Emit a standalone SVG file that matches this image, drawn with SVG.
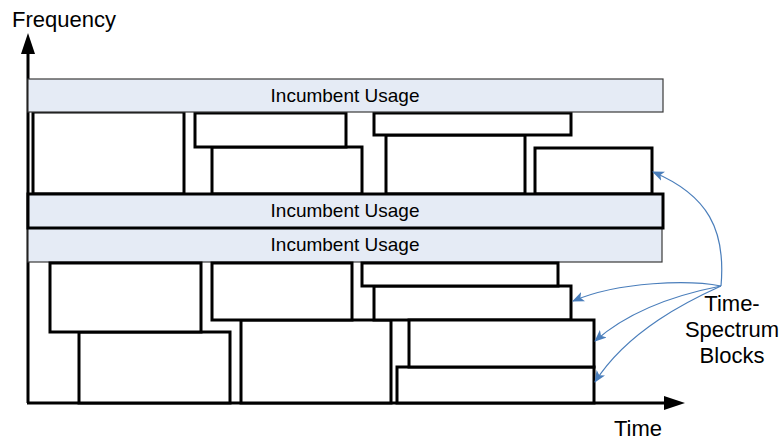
<svg xmlns="http://www.w3.org/2000/svg" width="782" height="442" viewBox="0 0 782 442">
  <style>
    .band { fill: #e5ebf5; stroke: #3a3a3a; stroke-width: 1.2; }
    .band-bold { fill: #e5ebf5; stroke: #000; stroke-width: 3; }
    .block { fill: #fff; stroke: #000; stroke-width: 3; stroke-linejoin: miter; }
    .axis { stroke: #000; stroke-width: 3; fill: none; }
    .lbl { font-family: "Liberation Sans", Arial, sans-serif; fill: #000; }
    .band-lbl { font-size: 19px; text-anchor: middle; }
    .axis-lbl { font-size: 22px; }
    .link { fill: none; stroke: #4a7ebb; stroke-width: 1.2; }
  </style>
  <defs>
    <marker id="tip" viewBox="0 0 12 10" refX="11" refY="5" markerWidth="12" markerHeight="10" markerUnits="userSpaceOnUse" orient="auto">
      <path d="M0,0 L12,5 L0,10 L3,5 Z" fill="#4a7ebb"/>
    </marker>
  </defs>

  <rect width="782" height="442" fill="#fff"/>

  <!-- axes -->
  <g id="axes">
    <line class="axis" x1="28" y1="50" x2="28" y2="403"/>
    <polygon points="28,33 35,54 21,54" fill="#000"/>
    <line class="axis" x1="27" y1="403" x2="666" y2="403"/>
    <polygon points="685,403 664,396 664,410" fill="#000"/>
    <text class="lbl axis-lbl" x="12" y="27">Frequency</text>
    <text class="lbl axis-lbl" x="614" y="436">Time</text>
  </g>

  <!-- upper time-spectrum blocks -->
  <g id="block-a"><rect class="block" x="33" y="112" width="151" height="82"/></g>
  <g id="block-c"><rect class="block" x="212" y="147" width="150" height="47"/></g>
  <g id="block-b"><rect class="block" x="195" y="113" width="151" height="34"/></g>
  <g id="block-e"><rect class="block" x="386" y="135" width="139" height="59"/></g>
  <g id="block-d"><rect class="block" x="374" y="113" width="197" height="22"/></g>
  <g id="block-f"><rect class="block" x="535" y="148" width="117" height="46"/></g>

  <!-- incumbent bands -->
  <g id="band-1">
    <rect class="band" x="28" y="79" width="635" height="33"/>
    <text class="lbl band-lbl" x="345" y="102">Incumbent Usage</text>
  </g>
  <g id="band-3">
    <rect class="band" x="28" y="228" width="634" height="34"/>
    <text class="lbl band-lbl" x="345" y="251">Incumbent Usage</text>
  </g>
  <g id="band-2">
    <rect class="band-bold" x="28" y="194" width="635" height="34"/>
    <text class="lbl band-lbl" x="345" y="217">Incumbent Usage</text>
  </g>

  <!-- lower time-spectrum blocks -->
  <g id="block-h"><rect class="block" x="79" y="332" width="151" height="71"/></g>
  <g id="block-g"><rect class="block" x="50" y="263" width="151" height="69"/></g>
  <g id="block-j"><rect class="block" x="241" y="320" width="150" height="83"/></g>
  <g id="block-i"><rect class="block" x="212" y="263" width="140" height="57"/></g>
  <g id="block-l"><rect class="block" x="374" y="286" width="197" height="34"/></g>
  <g id="block-k"><rect class="block" x="362" y="263" width="196" height="23"/></g>
  <g id="block-n"><rect class="block" x="397" y="367" width="197" height="36"/></g>
  <g id="block-m"><rect class="block" x="409" y="320" width="185" height="47"/></g>

  <!-- callout -->
  <g id="callout">
    <text class="lbl axis-lbl" text-anchor="middle" x="732" y="311">Time-</text>
    <text class="lbl axis-lbl" text-anchor="middle" x="732" y="337">Spectrum</text>
    <text class="lbl axis-lbl" text-anchor="middle" x="732" y="363">Blocks</text>
  </g>

  <g id="connectors">
    <path class="link" d="M721,286 C726,230 708,195 653,172" marker-end="url(#tip)"/>
    <path class="link" d="M721,286 C690,280 620,281 573,301" marker-end="url(#tip)"/>
    <path class="link" d="M721,286 C680,294 630,310 595,341" marker-end="url(#tip)"/>
    <path class="link" d="M721,286 C690,300 628,330 595,382" marker-end="url(#tip)"/>
  </g>
</svg>
